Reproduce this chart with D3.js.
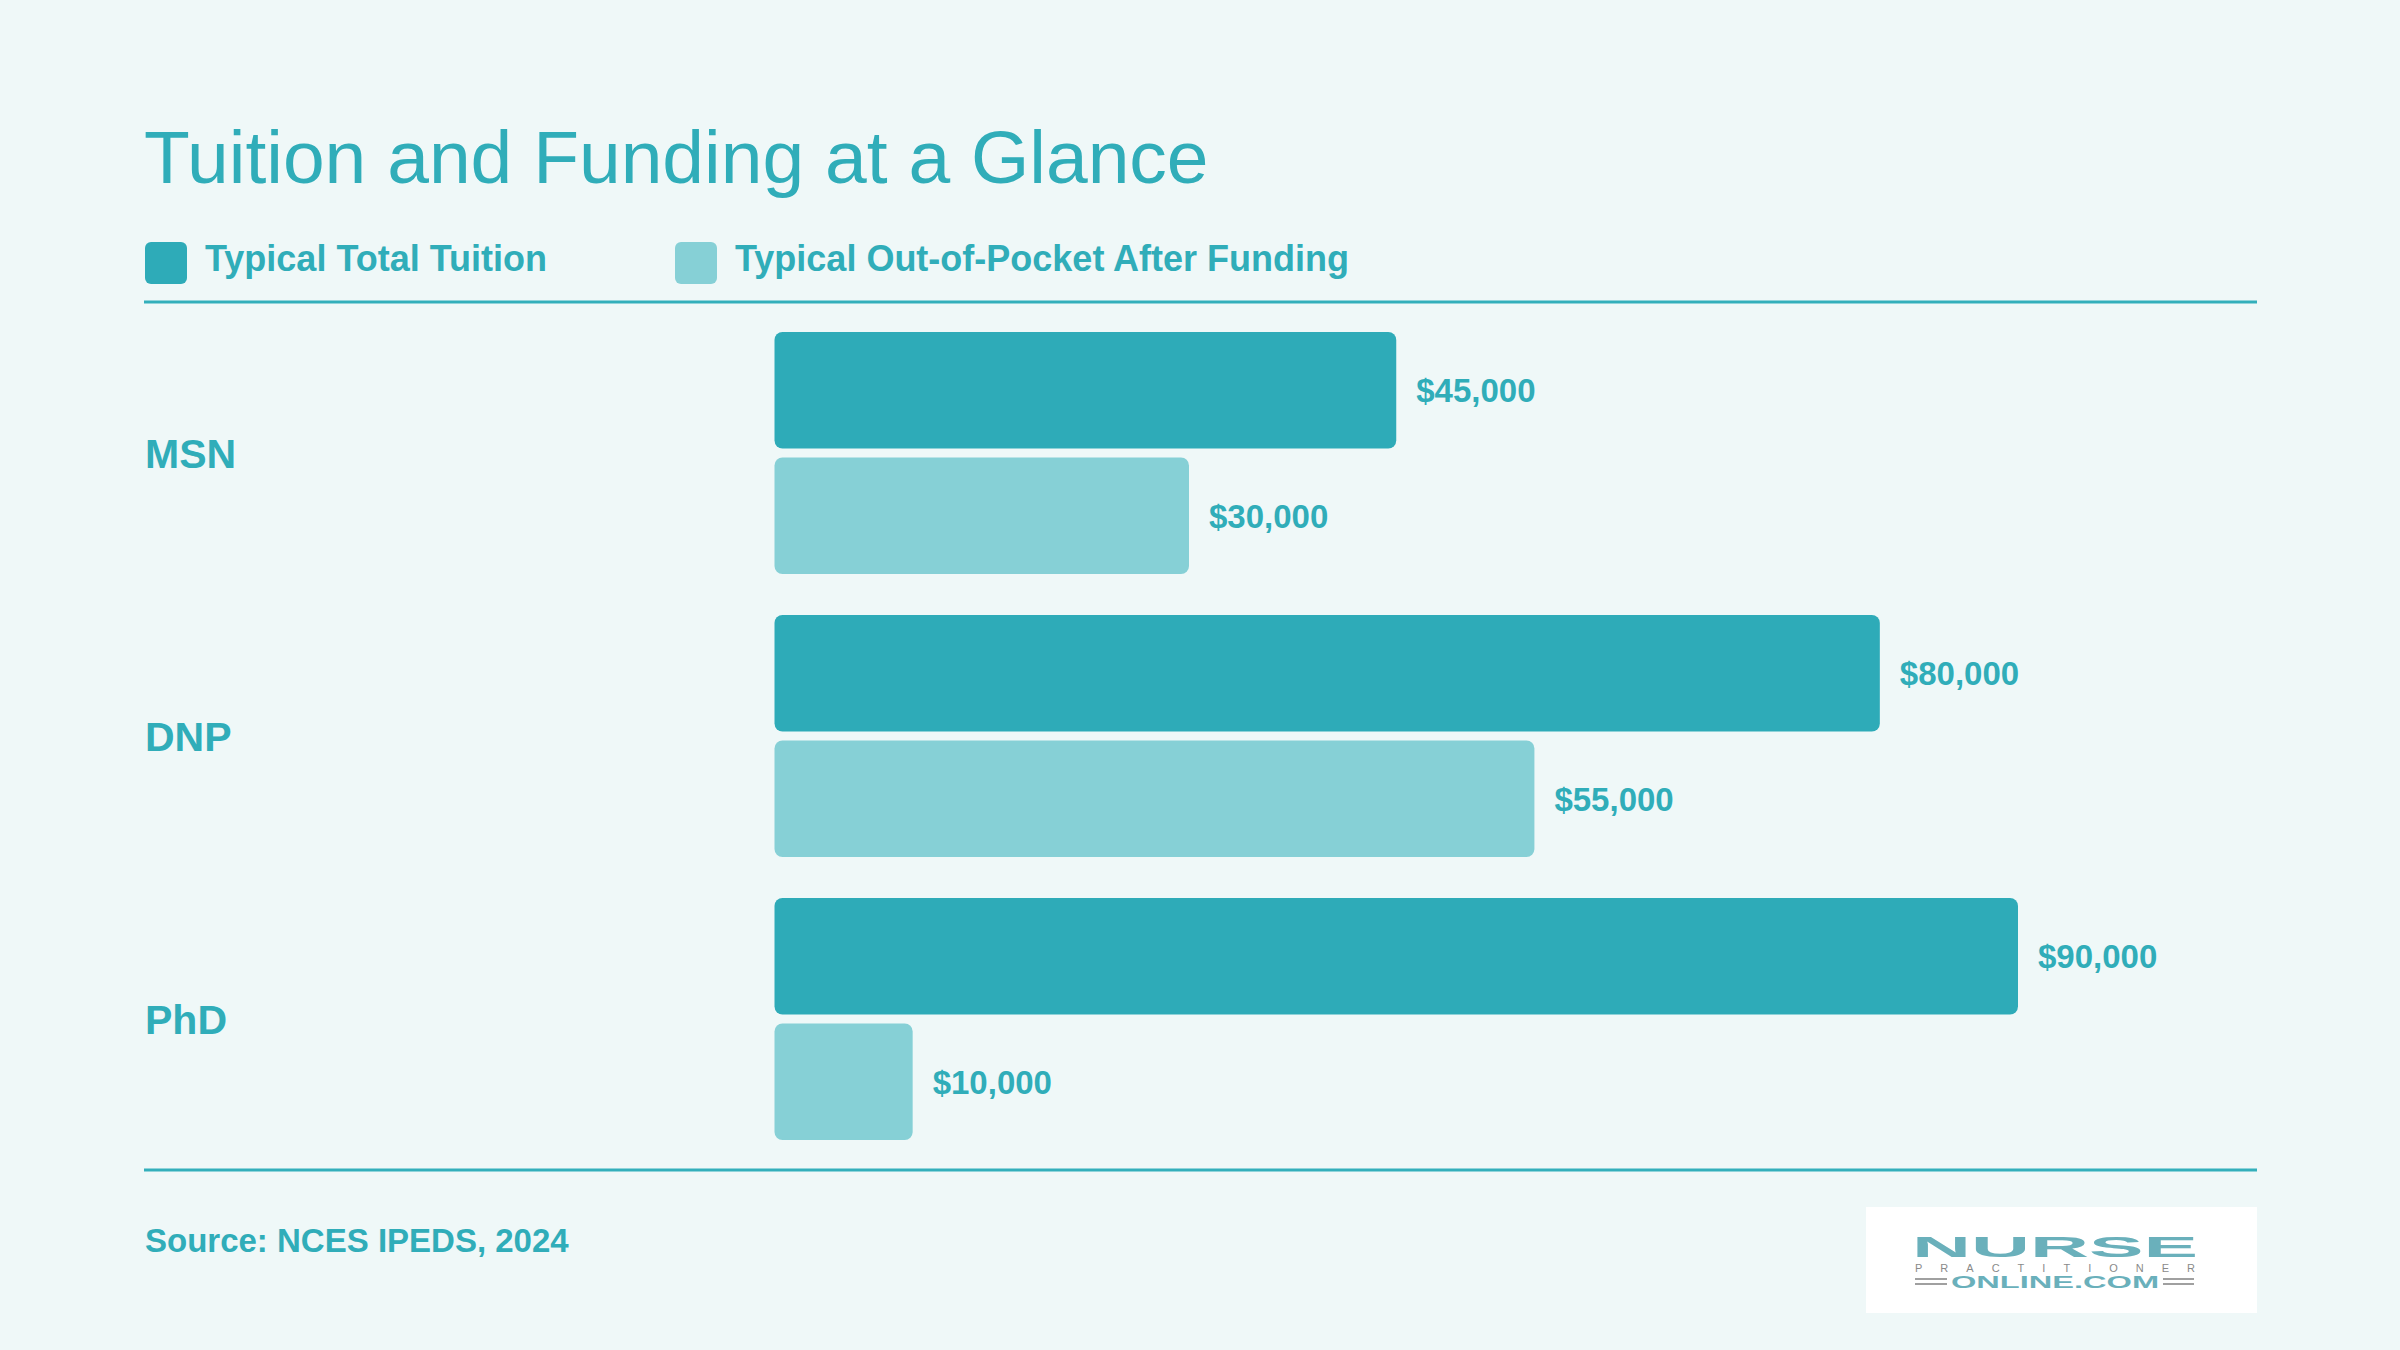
<!DOCTYPE html>
<html>
<head>
<meta charset="utf-8">
<script src="https://cdn.jsdelivr.net/npm/d3@7"></script>
<style>
  html, body { margin: 0; padding: 0; background: #eff8f8; }
  svg { display: block; font-family: "Liberation Sans", Arial, Helvetica, sans-serif; }
</style>
</head>
<body>
<svg></svg>
<script>
var categories = ["MSN", "DNP", "PhD"]
var seriesNames = ["Typical Total Tuition", "Typical Out-of-Pocket After Funding"]
var totalTuition = [45000, 80000, 90000]
var outOfPocket = [30000, 55000, 10000]
var sourceText = "Source: NCES IPEDS, 2024"

var colors = ["#2eabb8", "#86d0d6"]
var textColor = "#30adb9"

var width = 2400
var height = 1350

var svg = d3.select("svg")
  .attr("width", width)
  .attr("height", height)

svg.append("rect")
  .attr("width", width)
  .attr("height", height)
  .attr("fill", "#eff8f8")

// title
svg.append("text")
  .attr("x", 144)
  .attr("y", 183)
  .attr("font-size", 75)
  .attr("fill", textColor)
  .text("Tuition and Funding at a Glance")

// legend
var legendX = [145, 675]
seriesNames.forEach(function(name, i) {
  svg.append("rect")
    .attr("x", legendX[i])
    .attr("y", 242)
    .attr("width", 42)
    .attr("height", 42)
    .attr("rx", 6)
    .attr("fill", colors[i])
  svg.append("text")
    .attr("x", legendX[i] + 60)
    .attr("y", 271)
    .attr("font-size", 36)
    .attr("font-weight", "bold")
    .attr("fill", textColor)
    .text(name)
})

// rules
svg.append("line")
  .attr("x1", 144).attr("x2", 2257)
  .attr("y1", 302).attr("y2", 302)
  .attr("stroke", "#33afbb").attr("stroke-width", 3)

svg.append("line")
  .attr("x1", 144).attr("x2", 2257)
  .attr("y1", 1170).attr("y2", 1170)
  .attr("stroke", "#33afbb").attr("stroke-width", 3)

// scales
var xScale = d3.scaleLinear()
  .domain([0, 90000])
  .range([774.5, 2018])

var yScale = d3.scaleBand()
  .domain(categories)
  .range([332, 1140])
  .paddingInner(41 / 283)
  .paddingOuter(0)

var subScale = d3.scaleBand()
  .domain([0, 1])
  .range([0, yScale.bandwidth()])
  .paddingInner(9 / 125)

var data = categories.map(function(c, i) {
  return { cat: c, values: [totalTuition[i], outOfPocket[i]] }
})

var groups = svg.selectAll(".group")
  .data(data)
  .enter()
  .append("g")
  .attr("class", "group")
  .attr("transform", function(d) { return "translate(0," + yScale(d.cat) + ")" })

groups.append("text")
  .attr("x", 145)
  .attr("y", yScale.bandwidth() / 2)
  .attr("dy", "0.36em")
  .attr("font-size", 41)
  .attr("font-weight", "bold")
  .attr("fill", textColor)
  .text(function(d) { return d.cat })

var fmt = d3.format("$,")

groups.selectAll(".bar")
  .data(function(d) { return d.values })
  .enter()
  .append("rect")
  .attr("class", "bar")
  .attr("x", xScale(0))
  .attr("y", function(d, i) { return subScale(i) })
  .attr("width", function(d) { return xScale(d) - xScale(0) })
  .attr("height", subScale.bandwidth())
  .attr("rx", 8)
  .attr("fill", function(d, i) { return colors[i] })

groups.selectAll(".val")
  .data(function(d) { return d.values })
  .enter()
  .append("text")
  .attr("class", "val")
  .attr("x", function(d) { return xScale(d) + 20 })
  .attr("y", function(d, i) { return subScale(i) + subScale.bandwidth() / 2 })
  .attr("dy", "0.36em")
  .attr("font-size", 33)
  .attr("font-weight", "bold")
  .attr("fill", textColor)
  .text(function(d) { return fmt(d) })

// source
svg.append("text")
  .attr("x", 145)
  .attr("y", 1252)
  .attr("font-size", 33)
  .attr("font-weight", "bold")
  .attr("fill", textColor)
  .text(sourceText)

// logo
svg.append("rect")
  .attr("x", 1866).attr("y", 1207)
  .attr("width", 391).attr("height", 106)
  .attr("fill", "#ffffff")

svg.append("text")
  .attr("x", 2055).attr("y", 1257)
  .attr("text-anchor", "middle")
  .attr("font-size", 30)
  .attr("font-weight", "900")
  .attr("fill", "#6ab0bb")
  .attr("textLength", 286)
  .attr("lengthAdjust", "spacingAndGlyphs")
  .text("NURSE")

svg.append("text")
  .attr("x", 2055).attr("y", 1272)
  .attr("text-anchor", "middle")
  .attr("font-size", 11)
  .attr("fill", "#8a8a8a")
  .attr("textLength", 280)
  .attr("lengthAdjust", "spacing")
  .text("PRACTITIONER")

svg.append("text")
  .attr("x", 2055).attr("y", 1288)
  .attr("text-anchor", "middle")
  .attr("font-size", 17)
  .attr("font-weight", "900")
  .attr("fill", "#6ab0bb")
  .attr("textLength", 208)
  .attr("lengthAdjust", "spacingAndGlyphs")
  .text("ONLINE.COM")

;[[1915, 1947], [2163, 2194]].forEach(function(seg) {
  [1279, 1284].forEach(function(yy) {
    svg.append("line")
      .attr("x1", seg[0]).attr("x2", seg[1])
      .attr("y1", yy).attr("y2", yy)
      .attr("stroke", "#a0a0a0").attr("stroke-width", 2)
  })
})
</script>
</body>
</html>
